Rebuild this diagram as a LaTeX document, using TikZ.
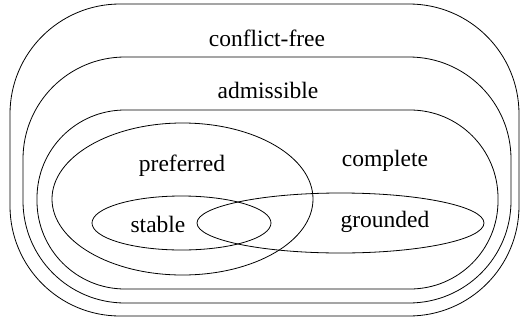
\documentclass[tikz,border=0pt]{standalone}
\usepackage{fontspec}
\setmainfont{Liberation Serif}
\newfontfamily\timesfont{Liberation Serif}
\begin{document}
\begin{tikzpicture}[x=1pt,y=-1pt,line width=0.8pt,
  setbox/.style={draw,black},
  lbl/.style={font=\timesfont\fontsize{23.5}{27}\selectfont,inner sep=0pt}]
\useasboundingbox (0,0) rectangle (520,322);
% rounded regions
\draw[setbox,rounded corners=110pt] (10,4) rectangle (519,316);
\draw[setbox,rounded corners=102pt] (23,57) rectangle (511,303);
\draw[setbox,rounded corners=88pt] (37,110) rectangle (498,289);
% ellipses
\draw[setbox] (182.5,199) ellipse [x radius=130.5, y radius=76];
\draw[setbox] (181.5,223) ellipse [x radius=89.5, y radius=27];
\draw[setbox] (340.5,223) ellipse [x radius=143.5, y radius=30];
% labels
\node[lbl] (cf) at (267,38) {conflict-free};
\node[lbl] (ad) at (268,90) {admissible};
\node[lbl] (pr) at (182,166) {preferred};
\node[lbl] (co) at (385,161) {complete};
\node[lbl] (st) at (158,224) {stable};
\node[lbl] (gr) at (385,222) {grounded};
\end{tikzpicture}
\end{document}
